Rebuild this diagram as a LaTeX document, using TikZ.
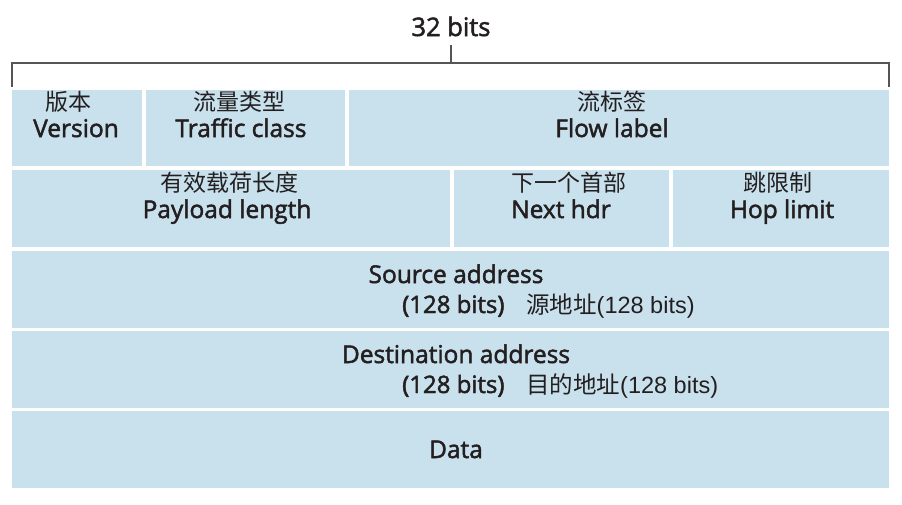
\documentclass[tikz,border=0pt]{standalone}
\usepackage{fontspec}
\setmainfont{Open Sans}[FakeBold=2]
\newfontfamily\cjk{Noto Sans CJK SC}
\newfontfamily\helv{Liberation Sans}
\definecolor{cellblue}{HTML}{C9E1ED}
\definecolor{txt}{HTML}{231F20}
\definecolor{brk}{HTML}{555555}
\begin{document}
\begin{tikzpicture}[x=1pt,y=-1pt,
  cell/.style={fill=cellblue, inner sep=0pt, outer sep=0pt, anchor=north west},
  en/.style={font=\fontsize{24.5}{28}\selectfont, text=txt, inner sep=0pt, anchor=base},
  enl/.style={en, font=\fontsize{24}{28}\selectfont, anchor=base west},
  zh/.style={font=\cjk\fontsize{23}{27}\selectfont, text=txt, inner sep=0pt, anchor=center},
  mix/.style={font=\fontsize{23.5}{27}\selectfont, text=txt, inner sep=0pt, anchor=base west},
  bracket/.style={draw=brk, line width=1.4pt}]
\useasboundingbox (0,0) rectangle (902,504);
% cells
\node[cell, minimum width=130pt, minimum height=76pt] (ver) at (12,90) {};
\node[cell, minimum width=199pt, minimum height=76pt] (tc) at (146,90) {};
\node[cell, minimum width=540pt, minimum height=76pt] (fl) at (349,90) {};
\node[cell, minimum width=438pt, minimum height=77pt] (pl) at (12,170) {};
\node[cell, minimum width=215pt, minimum height=77pt] (nh) at (454,170) {};
\node[cell, minimum width=216pt, minimum height=77pt] (hl) at (673,170) {};
\node[cell, minimum width=877pt, minimum height=77pt] (src) at (12,251) {};
\node[cell, minimum width=877pt, minimum height=77pt] (dst) at (12,331) {};
\node[cell, minimum width=877pt, minimum height=77pt] (dat) at (12,411) {};
% bracket
\coordinate (bl) at (12,87);
\coordinate (btl) at (12,63);
\coordinate (btr) at (889,63);
\coordinate (br) at (889,87);
\coordinate (bm) at (451,63);
\coordinate (bt) at (451,45);
\draw[bracket] (bl) -- (btl) -- (btr) -- (br);
\draw[bracket] (bm) -- (bt);
\node[en, font=\fontsize{25.5}{28}\selectfont] (bits) at (451,36) {32 bits};
% row 1
\node[zh] (verzh) at (68,102) {版本};
\node[en] (veren) at (76,137) {Version};
\node[zh] (tczh) at (239,102) {流量类型};
\node[en] (tcen) at (241,137) {Traffic class};
\node[zh] (flzh) at (612,102) {流标签};
\node[en] (flen) at (612,137) {Flow label};
% row 2
\node[zh] (plzh) at (229,183) {有效载荷长度};
\node[en] (plen) at (227,218) {Payload length};
\node[zh] (nhzh) at (569,183) {下一个首部};
\node[en] (nhen) at (561,218) {Next hdr};
\node[zh] (hlzh) at (778,183) {跳限制};
\node[en] (hlen) at (782,218) {Hop limit};
% row 3
\node[en] (srcen) at (456,283) {Source address};
\node[enl] (srcb) at (402,313) {(128 bits)};
\node[mix] (srczh) at (526,313) {{\cjk 源地址}{\helv (128 bits)}};
% row 4
\node[en] (dsten) at (456,363) {Destination address};
\node[enl] (dstb) at (402,393) {(128 bits)};
\node[mix] (dstzh) at (526,393) {{\cjk 目的地址}{\helv (128 bits)}};
% row 5
\node[en] (daten) at (456,458) {Data};
\end{tikzpicture}
\end{document}
